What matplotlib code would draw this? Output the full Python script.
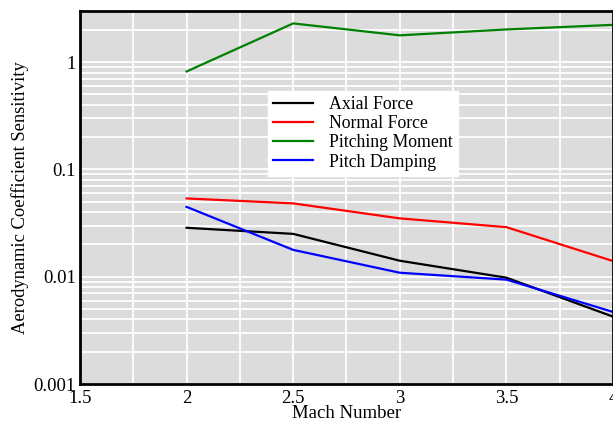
import matplotlib.pyplot as plt
from matplotlib.ticker import LogLocator, MultipleLocator, FixedLocator, FixedFormatter

plt.rcParams['font.family'] = ['Liberation Serif', 'DejaVu Serif']

# Mach number
mach = [2.0, 2.5, 3.0, 3.5, 4.0]

# sensitivities
axial_force = [0.0286, 0.0251, 0.0141, 0.0098, 0.00425]
normal_force = [0.0537, 0.0483, 0.035, 0.029, 0.014]
pitching_moment = [0.82, 2.3, 1.78, 2.02, 2.23]
pitch_damping = [0.0448, 0.0178, 0.0109, 0.0094, 0.0047]

y_ticks = [0.001, 0.01, 0.1, 1]
y_tick_labels = ['0.001', '0.01', '0.1', '1']
x_ticks = [1.5, 2, 2.5, 3, 3.5, 4]
x_tick_labels = ['1.5', '2', '2.5', '3', '3.5', '4']

fig = plt.figure(figsize=(6.13, 4.24), dpi=100)
ax = fig.add_axes([0.1305, 0.0943, 0.8695, 0.8797])
ax.set_facecolor('#dcdcdc')

ax.plot(mach, axial_force, color='black', lw=1.6, label='Axial Force')
ax.plot(mach, normal_force, color='red', lw=1.6, label='Normal Force')
ax.plot(mach, pitching_moment, color='green', lw=1.6, label='Pitching Moment')
ax.plot(mach, pitch_damping, color='blue', lw=1.6, label='Pitch Damping')

ax.set_yscale('log')
ax.set_xlim(1.5, 4.0)
ax.set_ylim(0.001, 3.0)

ax.yaxis.set_major_locator(FixedLocator(y_ticks))
ax.yaxis.set_major_formatter(FixedFormatter(y_tick_labels))
ax.yaxis.set_minor_locator(LogLocator(base=10, subs=range(2, 10)))
ax.yaxis.set_minor_formatter(FixedFormatter([]))
ax.xaxis.set_major_locator(FixedLocator(x_ticks))
ax.xaxis.set_major_formatter(FixedFormatter(x_tick_labels))
ax.xaxis.set_minor_locator(MultipleLocator(0.25))

ax.grid(True, which='both', color='white', lw=1.3)
ax.set_axisbelow(True)
ax.tick_params(which='both', length=0, labelsize=13.5)
ax.tick_params(axis='x', pad=4)
ax.tick_params(axis='y', pad=3)

for s in ax.spines.values():
    s.set_linewidth(2)
    s.set_color('black')

ax.set_xlabel('Mach Number', fontsize=13.5, labelpad=-1)
ax.set_ylabel('Aerodynamic Coefficient Sensitivity', fontsize=13.3, labelpad=3)

leg = ax.legend(loc='upper left', bbox_to_anchor=(0.353, 0.786), fontsize=12.8,
                frameon=True, fancybox=False, framealpha=1, edgecolor='white',
                handlelength=2.2, handletextpad=0.9, labelspacing=0.12,
                borderpad=0.3, borderaxespad=0)

fig.savefig('out.png', dpi=100)
